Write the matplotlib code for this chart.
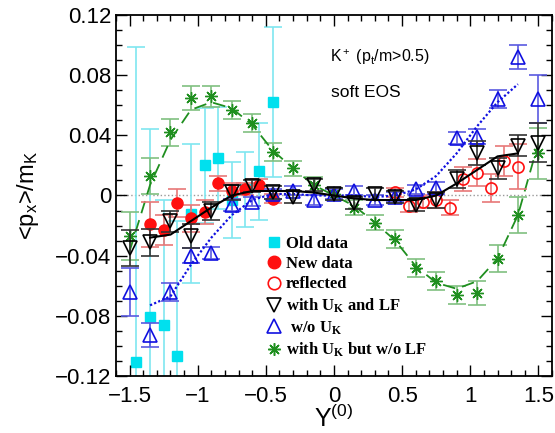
import numpy as np
import matplotlib
matplotlib.use('Agg')
import matplotlib.pyplot as plt
from matplotlib.lines import Line2D

plt.rcParams['font.family'] = 'Liberation Sans'
plt.rcParams['mathtext.fontset'] = 'custom'
plt.rcParams['mathtext.rm'] = 'Liberation Sans'
plt.rcParams['mathtext.it'] = 'Liberation Sans:italic'
plt.rcParams['mathtext.bf'] = 'Liberation Serif:bold'

# Old data (cyan squares)
old_x = [-1.45, -1.35, -1.25, -1.15, -1.05, -0.95, -0.85, -0.75, -0.65, -0.55, -0.45]
old_y = [-0.111, -0.081, -0.086, -0.107, -0.012, 0.020, 0.025, -0.003, 0.004, 0.016, 0.062]
old_err = [0.21, 0.125, 0.083, 0.09, 0.046, 0.038, 0.034, 0.025, 0.025, 0.032, 0.050]

# New data (red filled circles)
new_x = [-1.35, -1.25, -1.15, -1.05, -0.95, -0.85, -0.75, -0.65, -0.55, -0.45]
new_y = [-0.019, -0.023, -0.005, -0.015, -0.011, 0.008, 0.003, 0.004, 0.007, -0.002]
new_err = [0.015, 0.010, 0.009, 0.009, 0.008, 0.005, 0.005, 0.004, 0.004, 0.003]

# reflected (red open circles)
ref_x = [0.45, 0.55, 0.65, 0.75, 0.85, 0.95, 1.05, 1.15, 1.25, 1.35]
ref_y = [0.002, -0.007, -0.004, -0.003, -0.008, 0.011, 0.015, 0.005, 0.023, 0.019]
ref_err = [0.003, 0.004, 0.004, 0.005, 0.005, 0.008, 0.009, 0.009, 0.010, 0.015]

# model rapidities
mod_x = [-1.5, -1.35, -1.2, -1.05, -0.9, -0.75, -0.6, -0.45, -0.3, -0.15, 0.0,
         0.15, 0.3, 0.45, 0.6, 0.75, 0.9, 1.05, 1.2, 1.35, 1.5]

# with U_K and LF (black down triangles)
lf_y = [-0.035, -0.031, -0.017, -0.027, -0.010, 0.002, 0.006, 0.002, -0.001, 0.007, 0.001,
        -0.005, 0.001, -0.001, -0.006, -0.003, 0.011, 0.028, 0.018, 0.033, 0.035]
lf_err = [0.012, 0.009, 0.007, 0.008, 0.006, 0.005, 0.004, 0.004, 0.004, 0.004, 0.004,
          0.004, 0.004, 0.004, 0.004, 0.005, 0.006, 0.008, 0.007, 0.007, 0.013]
lf_line_x = [-1.35, -1.2, -1.05, -0.9, -0.75, -0.6, -0.45, -0.3, -0.15, 0.0,
             0.15, 0.3, 0.45, 0.6, 0.75, 0.9, 1.05, 1.2, 1.35]
lf_line_y = [-0.028, -0.026, -0.017, -0.008, 0.000, 0.003, 0.003, 0.003, 0.002, 0.000,
             -0.002, -0.003, -0.003, -0.003, 0.000, 0.008, 0.017, 0.026, 0.028]

# w/o U_K (blue up triangles)
nok_y = [-0.064, -0.093, -0.064, -0.040, -0.038, -0.006, -0.004, 0.001, 0.003, -0.003, 0.001,
         0.003, -0.003, -0.001, 0.004, 0.005, 0.038, 0.039, 0.064, 0.092, 0.064]
nok_err = [0.016, 0.008, 0.006, 0.005, 0.004, 0.004, 0.003, 0.003, 0.003, 0.003, 0.003,
           0.003, 0.003, 0.003, 0.003, 0.004, 0.004, 0.005, 0.006, 0.008, 0.016]
nok_line_y = [-0.073, -0.067, -0.046, -0.028, -0.013, -0.003, 0.001, 0.001, 0.000, 0.000,
              0.000, -0.001, 0.000, 0.004, 0.013, 0.028, 0.046, 0.062, 0.074]

# with U_K but w/o LF (green asterisks)
nolf_y = [-0.027, 0.013, 0.042, 0.065, 0.066, 0.057, 0.048, 0.029, 0.018, 0.007, 0.001,
          -0.008, -0.018, -0.029, -0.048, -0.057, -0.066, -0.065, -0.042, -0.013, 0.028]
nolf_err = [0.016, 0.012, 0.009, 0.008, 0.007, 0.006, 0.006, 0.006, 0.005, 0.005, 0.004,
            0.005, 0.005, 0.006, 0.006, 0.006, 0.006, 0.008, 0.009, 0.012, 0.017]
nolf_line_y = [-0.037, 0.007, 0.037, 0.057, 0.062, 0.058, 0.047, 0.030, 0.018, 0.007, 0.000,
               -0.007, -0.018, -0.030, -0.047, -0.058, -0.062, -0.057, -0.042, -0.013, 0.035]

cyan = '#00e0ee'
cyan_e = '#7fe6f0'
red = '#ff1010'
red_e = '#e87878'
green = '#1f8f1f'
green_e = '#80c080'
blue = '#1010e0'
blue_e = '#5a5ae0'

fig = plt.figure(figsize=(5.55, 4.33), dpi=100)
ax = fig.add_axes([0.209, 0.1316, 0.7856, 0.8338])

ax.axhline(0, color='#999999', ls=':', lw=1, zorder=0)

cap = 6.5
ax.errorbar(old_x, old_y, yerr=old_err, fmt='s', color=cyan, ecolor=cyan_e, ms=7,
            capsize=cap, elinewidth=1.2, capthick=1.2, zorder=1)

ax.errorbar(mod_x, nolf_y, yerr=nolf_err, fmt='none', ecolor=green_e, capsize=cap,
            elinewidth=1.2, capthick=1.2, zorder=2)
ax.plot(mod_x, nolf_line_y, color=green, ls=(0, (7, 4)), lw=1.3, zorder=2)
ax.plot(mod_x, nolf_y, ls='none', marker=(8, 2, 0), color=green, ms=9, mew=1.0, zorder=3)
ax.plot(mod_x, nolf_y, ls='none', marker='o', color=green, ms=2.5, zorder=3)

ax.errorbar(new_x, new_y, yerr=new_err, fmt='o', color=red, ecolor=red_e, ms=8,
            capsize=cap, elinewidth=1.2, capthick=1.2, zorder=4)
ax.errorbar(ref_x, ref_y, yerr=ref_err, fmt='o', color=red, mfc='none', ecolor=red_e, ms=8,
            mew=1.2, capsize=cap, elinewidth=1.2, capthick=1.2, zorder=4)

ax.errorbar(mod_x, nok_y, yerr=nok_err, fmt='none', ecolor=blue_e, capsize=cap,
            elinewidth=1.2, capthick=1.2, zorder=5)
ax.plot(lf_line_x, nok_line_y, color=blue, ls=(0, (1, 1)), lw=1.6, zorder=5)
ax.plot(mod_x, nok_y, ls='none', marker='^', mfc='none', mec=blue, ms=9.5, mew=1.2, zorder=6)

ax.errorbar(mod_x, lf_y, yerr=lf_err, fmt='none', ecolor='#333333', capsize=cap,
            elinewidth=1.2, capthick=1.2, zorder=7)
ax.plot(lf_line_x, lf_line_y, color='black', lw=1.5, zorder=7)
ax.plot(mod_x, lf_y, ls='none', marker='v', mfc='none', mec='black', ms=9.5, mew=1.2, zorder=8)

ax.set_xlim(-1.6, 1.6)
ax.set_ylim(-0.12, 0.12)
ax.set_xticks([-1.5, -1, -0.5, 0, 0.5, 1, 1.5])
ax.set_xticklabels(['\u22121.5', '\u22121', '\u22120.5', '0', '0.5', '1', '1.5'])
ax.set_xticks(np.arange(-1.6, 1.61, 0.1), minor=True)
ax.set_yticks([-0.12, -0.08, -0.04, 0, 0.04, 0.08, 0.12])
ax.set_yticklabels(['\u22120.12', '\u22120.08', '\u22120.04', '0', '0.04', '0.08', '0.12'])
ax.set_yticks(np.arange(-0.12, 0.121, 0.01), minor=True)
ax.tick_params(which='both', direction='in', top=True, right=True, labelsize=16)
ax.tick_params(which='major', length=8, width=1)
ax.tick_params(which='minor', length=4, width=1)
ax.tick_params(axis='x', pad=7)
for s in ax.spines.values():
    s.set_linewidth(1.3)

ax.set_ylabel(r'<p$_\mathrm{x}$>/m$_\mathrm{K}$', fontsize=17, labelpad=10)
ax.set_xlabel(r'Y$^{\mathrm{(0)}}$', fontsize=18, labelpad=-1)

ax.text(-0.03, 0.0885, r'K$^+$ (p$_\mathrm{t}$/m>0.5)', fontsize=11.5)
ax.text(-0.02, 0.0655, 'soft EOS', fontsize=12.5)

handles = [
    Line2D([], [], ls='none', marker='s', color=cyan, ms=7),
    Line2D([], [], ls='none', marker='o', color=red, ms=9),
    Line2D([], [], ls='none', marker='o', mfc='none', mec=red, ms=9, mew=1.2),
    Line2D([], [], ls='none', marker='v', mfc='none', mec='black', ms=9.5, mew=1.2),
    Line2D([], [], ls='none', marker='^', mfc='none', mec=blue, ms=9.5, mew=1.2),
    Line2D([], [], ls='none', marker=(8, 2, 0), color=green, ms=9, mew=1.1),
]
labels = ['Old data', 'New data', 'reflected', r'with $\mathbf{U_K}$ and LF',
          r' w/o $\mathbf{U_K}$', r'with $\mathbf{U_K}$ but w/o LF']
ax.legend(handles, labels, loc='upper left', bbox_to_anchor=(0.32, 0.42), frameon=False,
          prop={'family': 'Liberation Serif', 'weight': 'bold', 'size': 12},
          handlelength=0.8, handletextpad=0.3, labelspacing=0.25, borderpad=0.2)

fig.savefig('out.png', dpi=100)
